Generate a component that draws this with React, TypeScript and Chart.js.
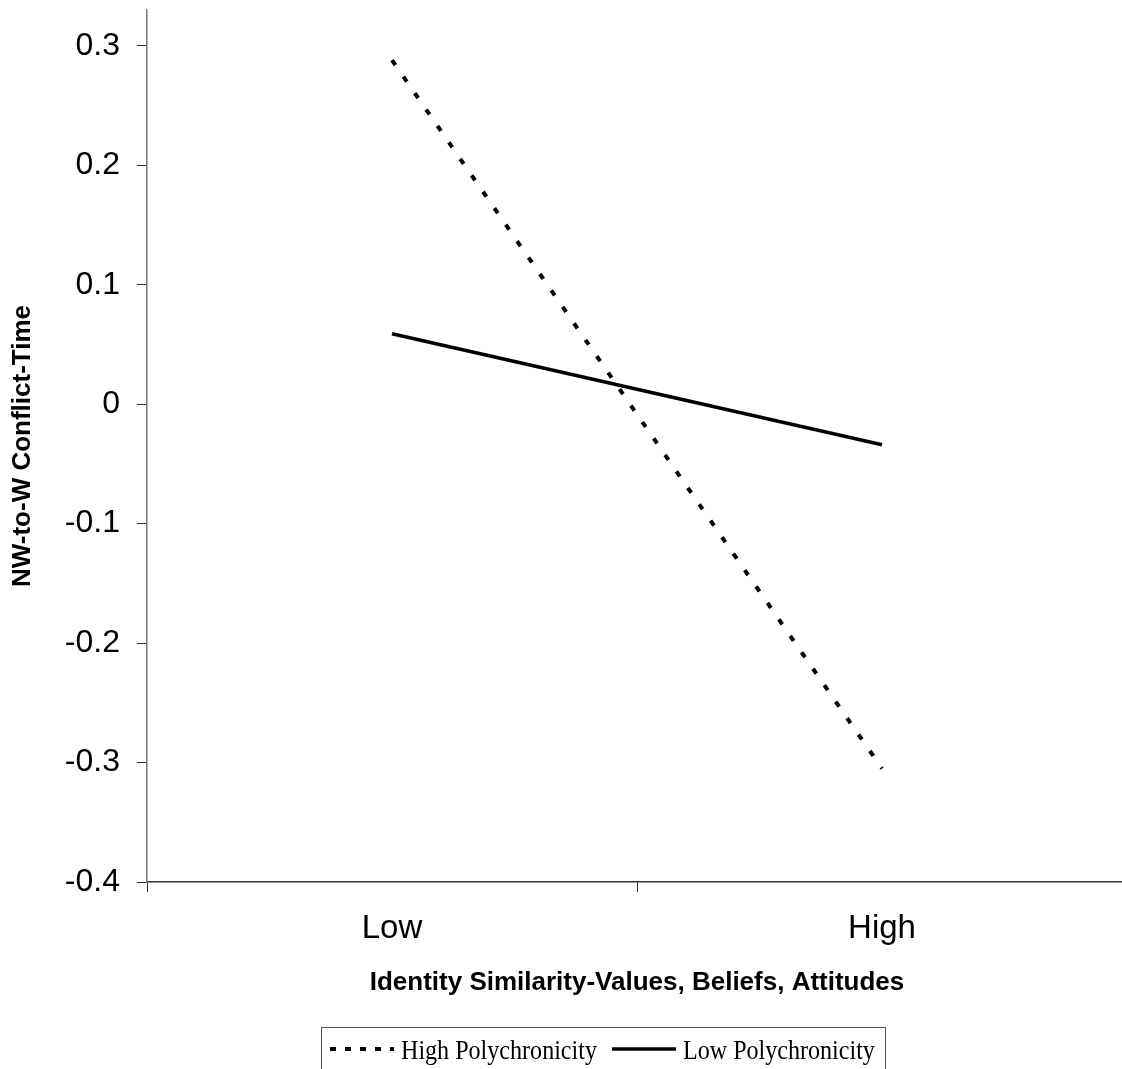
import React, { useEffect, useRef } from 'react';
import { Chart, registerables } from 'chart.js';

Chart.register(...registerables);

// Simple-slopes data: conflict by identity similarity, split by polychronicity
const categories = ['Low', 'High'];
const highPolychronicity = [0.288, -0.305];
const lowPolychronicity = [0.059, -0.034];
const yTickValues = [-0.4, -0.3, -0.2, -0.1, 0, 0.1, 0.2, 0.3];
const seriesNames = ['High Polychronicity', 'Low Polychronicity'];
const xTitle = 'Identity Similarity-Values, Beliefs, Attitudes';
const yTitle = 'NW-to-W Conflict-Time';

const CANVAS_W = 1130;
const CANVAS_H = 1069;
const SANS = '"Liberation Sans", Arial, Helvetica, sans-serif';
const SERIF = '"Liberation Serif", "Times New Roman", Times, serif';

// Framed legend laid out in a single row beneath the axis title
const boxedLegend = {
  id: 'boxedLegend',
  afterDraw(chart: any, _args: any, opts: any) {
    const ctx: CanvasRenderingContext2D = chart.ctx;
    ctx.save();
    ctx.strokeStyle = opts.frameColor;
    ctx.lineWidth = 1;
    ctx.setLineDash([]);
    ctx.strokeRect(opts.left + 0.5, opts.top + 0.5, opts.width, opts.height);

    let x = opts.left + opts.inset;
    chart.data.datasets.forEach((ds: any, i: number) => {
      ctx.beginPath();
      ctx.setLineDash(opts.dashes[i] || []);
      ctx.lineWidth = ds.borderWidth;
      ctx.strokeStyle = ds.borderColor;
      ctx.lineCap = 'butt';
      ctx.moveTo(x, opts.sampleY);
      ctx.lineTo(x + opts.sampleLength, opts.sampleY);
      ctx.stroke();
      ctx.setLineDash([]);
      x += opts.sampleLength + opts.sampleGap;

      ctx.font = `${opts.fontSize}px ${SERIF}`;
      ctx.fillStyle = '#000';
      ctx.textBaseline = 'alphabetic';
      ctx.textAlign = 'left';
      const w = ctx.measureText(ds.label).width * opts.squeeze;
      ctx.save();
      ctx.translate(x, opts.baseline);
      ctx.scale(opts.squeeze, 1);
      ctx.fillText(ds.label, 0, 0);
      ctx.restore();
      x += w + opts.itemGap;
    });
    ctx.restore();
  },
};

export default function App() {
  const canvasRef = useRef<HTMLCanvasElement | null>(null);

  useEffect(() => {
    if (!canvasRef.current) return;
    const chart = new Chart(canvasRef.current, {
      type: 'line',
      data: {
        labels: categories,
        datasets: [
          {
            label: seriesNames[0],
            data: highPolychronicity,
            borderColor: '#000',
            borderWidth: 4,
            borderDash: [6, 14],
            borderCapStyle: 'butt',
            pointRadius: 0,
            fill: false,
            tension: 0,
          },
          {
            label: seriesNames[1],
            data: lowPolychronicity,
            borderColor: '#000',
            borderWidth: 3.5,
            borderCapStyle: 'butt',
            pointRadius: 0,
            fill: false,
            tension: 0,
          },
        ],
      },
      options: {
        responsive: false,
        animation: false,
        events: [],
        layout: { padding: { left: 0, top: 10, right: 3, bottom: 67 } },
        plugins: {
          legend: { display: false },
          tooltip: { enabled: false },
          boxedLegend: {
            left: 321,
            top: 1027,
            width: 564,
            height: 60,
            inset: 9,
            sampleLength: 64,
            sampleGap: 7,
            itemGap: 15,
            sampleY: 1049,
            baseline: 1059,
            fontSize: 28,
            squeeze: 0.86,
            frameColor: '#555',
            dashes: [[6, 9], []],
          },
        } as any,
        scales: {
          x: {
            type: 'category',
            offset: true,
            grid: {
              offset: true,
              drawOnChartArea: false,
              drawTicks: true,
              tickLength: 10,
              color: '#333',
              lineWidth: 1,
            },
            border: { display: true, color: '#333', width: 1.5 },
            ticks: {
              color: '#000',
              padding: 17,
              font: { family: SANS, size: 33 },
              maxRotation: 0,
              autoSkip: false,
            },
            title: {
              display: true,
              text: xTitle,
              color: '#000',
              font: { family: SANS, size: 26, weight: 'bold' },
              padding: { top: 0, bottom: 4 },
            },
            afterFit(scale: any) {
              scale.height = 120;
              scale.paddingLeft = 0;
              scale.paddingRight = 0;
            },
          },
          y: {
            type: 'linear',
            min: -0.4,
            max: 0.33,
            grid: {
              drawOnChartArea: false,
              drawTicks: true,
              tickLength: 10,
              color: '#333',
              lineWidth: 1,
            },
            border: { display: true, color: '#777', width: 1.5 },
            ticks: {
              color: '#000',
              padding: 17,
              font: { family: SANS, size: 32 },
              callback: (v: any) => String(Math.round(Number(v) * 10) / 10),
            },
            afterBuildTicks(scale: any) {
              scale.ticks = yTickValues.map((value) => ({ value }));
            },
            title: {
              display: true,
              text: yTitle,
              color: '#000',
              font: { family: SANS, size: 26, weight: 'bold' },
              padding: { top: 7, bottom: 0 },
            },
            afterFit(scale: any) {
              scale.width = 147;
              scale.paddingTop = 0;
              scale.paddingBottom = 0;
            },
          },
        },
      },
      plugins: [boxedLegend],
    } as any);
    return () => chart.destroy();
  }, []);

  return (
    <div
      style={{
        position: 'fixed',
        left: 0,
        top: 0,
        width: 1122,
        height: 1069,
        overflow: 'hidden',
        background: '#fff',
      }}
    >
      <canvas
        ref={canvasRef}
        width={CANVAS_W}
        height={CANVAS_H}
        style={{ display: 'block', width: CANVAS_W, height: CANVAS_H }}
      />
    </div>
  );
}
